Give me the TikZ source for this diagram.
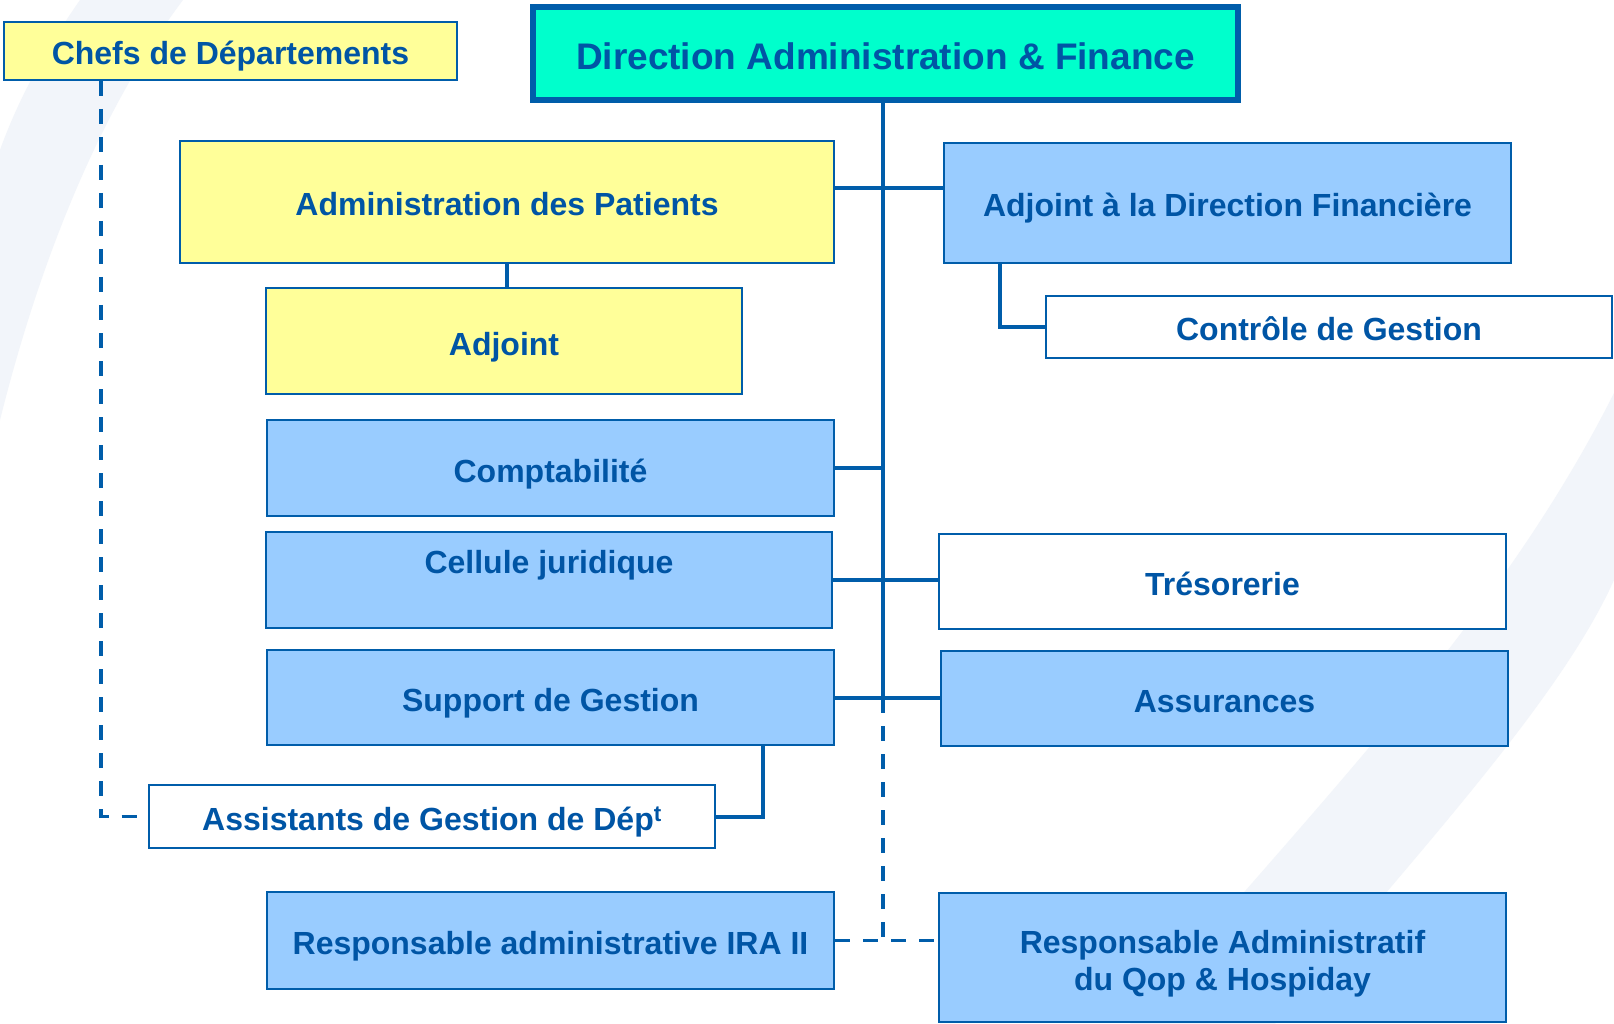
\documentclass[tikz,border=0pt]{standalone}
\usepackage{fontspec}
\setmainfont{Liberation Sans}
\definecolor{lineblue}{HTML}{005DAA}
\definecolor{txtblue}{HTML}{0055A5}
\definecolor{yelfill}{HTML}{FFFF99}
\definecolor{blufill}{HTML}{99CCFF}
\definecolor{cyanfill}{HTML}{00FFCC}
\definecolor{bgband}{HTML}{F2F5FA}
\tikzset{
  box/.style={draw=lineblue, line width=2.5pt, inner sep=0pt, text=txtblue,
    font=\bfseries\fontsize{32}{37.3}\selectfont, text height=29pt, text depth=1pt},
  yelbox/.style={box, fill=yelfill},
  blubox/.style={box, fill=blufill},
  whtbox/.style={box, fill=white, line width=2pt},
  titlebox/.style={box, fill=cyanfill, line width=6pt, font=\bfseries\fontsize{37}{44}\selectfont,
    text height=33pt, text depth=1.5pt},
  topline/.style={text height=0pt, text depth=14pt},
  conn/.style={draw=lineblue, line width=4pt},
  dconn/.style={draw=lineblue, line width=3.5pt, dash pattern=on 15pt off 13pt},
}
\begin{document}
\begin{tikzpicture}[x=1pt,y=-1pt]
\useasboundingbox (0,0) rectangle (1614,1024);
\fill[white] (0,0) rectangle (1614,1024);
% background swooshes
\fill[bgband] (80,0) .. controls (45,50) and (18,100) .. (0,150) -- (0,420)
  .. controls (40,260) and (100,110) .. (183,0) -- cycle;
\fill[bgband] (1614,393) .. controls (1500,620) and (1320,800) .. (1130,1024)
  -- (1275,1024) .. controls (1420,850) and (1560,700) .. (1614,580) -- cycle;

% nodes
\node[yelbox, line width=2pt, minimum width=453pt, minimum height=58pt] (chefs) at (230.5,51) {Chefs de Départements};
\node[titlebox, minimum width=705pt, minimum height=93pt] (dir) at (885.5,53.5) {Direction Administration \& Finance};
\node[yelbox, minimum width=654pt, minimum height=122pt] (pat) at (507,202) {Administration des Patients};
\node[blubox, minimum width=567pt, minimum height=120pt] (adf) at (1227.5,203) {Adjoint à la Direction Financière};
\node[yelbox, minimum width=476pt, minimum height=106pt] (adj) at (504,341) {Adjoint};
\node[whtbox, minimum width=566pt, minimum height=62pt] (ctrl) at (1329,327) {Contrôle de Gestion};
\node[blubox, minimum width=567pt, minimum height=96pt] (compta) at (550.5,468) {Comptabilité};
\node[blubox, topline, minimum width=566pt, minimum height=96pt] (cell) at (549,580) {Cellule juridique};
\node[whtbox, line width=2.5pt, minimum width=567pt, minimum height=95pt] (treso) at (1222.5,581.5) {Trésorerie};
\node[blubox, minimum width=567pt, minimum height=95pt] (supp) at (550.5,697.5) {Support de Gestion};
\node[blubox, minimum width=567pt, minimum height=95pt] (assur) at (1224.5,698.5) {Assurances};
\node[whtbox, minimum width=566pt, minimum height=63pt] (assist) at (432,816.5) {Assistants de Gestion de Dép\textsuperscript{t}};
\node[blubox, minimum width=567pt, minimum height=97pt] (ira) at (550.5,940.5) {Responsable administrative IRA II};
\node[blubox, topline, text depth=9pt, minimum width=567pt, minimum height=129pt] (qop) at (1222.5,957.5)
  {\begin{tabular}[t]{@{}c@{}}Responsable Administratif\\du Qop \& Hospiday\end{tabular}};

\coordinate (tA) at (883,698);

% solid connectors
\draw[conn] (dir.south -| tA) -- (tA);
\draw[conn] ([yshift=14pt]pat.east) -- ([yshift=15pt]adf.west);
\draw[conn] (pat.south) -- (adj.north -| pat.south);
\draw[conn] ([xshift=-227.5pt]adf.south) |- (ctrl.west);
\draw[conn] (compta.east) -- (compta.east -| tA);
\draw[conn] (cell.east) -- (cell.east -| treso.west);
\draw[conn] (supp.east) -- (supp.east -| assur.west);
\draw[conn] ([xshift=212.5pt]supp.south) |- (assist.east);

% dashed connectors
\draw[dconn] ([xshift=-129.5pt]chefs.south) |- (assist.west);
\draw[dconn] (tA) -- (tA |- ira.east);
\draw[dconn] (ira.east) -- (qop.west |- ira.east);
\end{tikzpicture}
\end{document}
